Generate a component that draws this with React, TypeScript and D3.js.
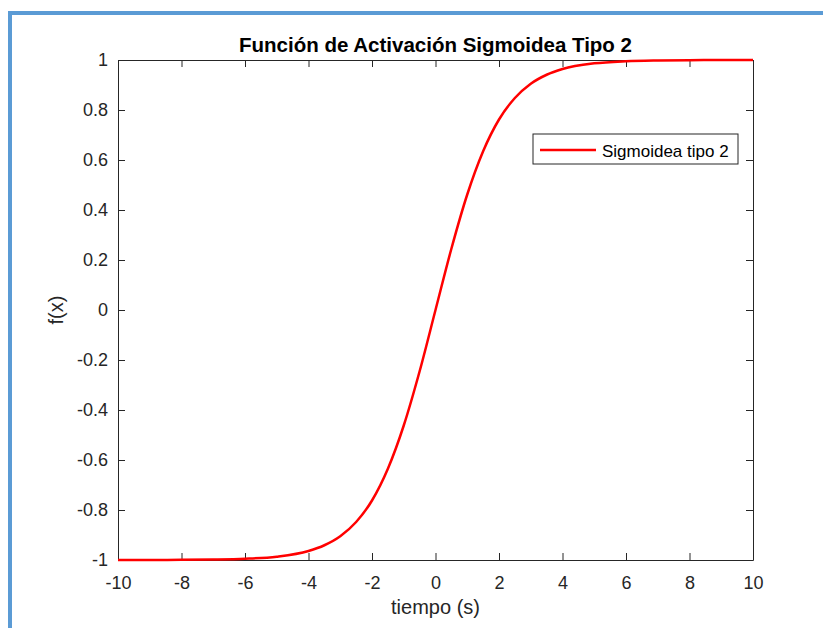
import React, { useEffect, useRef } from 'react';
import * as d3 from 'd3';

// values
const xValues = [-10, -9, -8, -7, -6, -5, -4, -3.5, -3, -2.5, -2, -1.5, -1, -0.5, 0, 0.5, 1, 1.5, 2, 2.5, 3, 3.5, 4, 5, 6, 7, 8, 9, 10];
const yValues = [-0.9999, -0.9998, -0.9993, -0.9982, -0.9951, -0.9866, -0.964, -0.941, -0.905, -0.848, -0.762, -0.635, -0.462, -0.245, 0, 0.245, 0.462, 0.635, 0.762, 0.848, 0.905, 0.941, 0.964, 0.9866, 0.9951, 0.9982, 0.9993, 0.9998, 0.9999];

const xTicks = [-10, -8, -6, -4, -2, 0, 2, 4, 6, 8, 10];
const yTicks = [-1, -0.8, -0.6, -0.4, -0.2, 0, 0.2, 0.4, 0.6, 0.8, 1];

const title = 'Función de Activación Sigmoidea Tipo 2';
const xLabel = 'tiempo (s)';
const yLabel = 'f(x)';
const seriesName = 'Sigmoidea tipo 2';

const W = 823;
const H = 628;
const margin = { top: 60, right: 70, bottom: 68, left: 118 };
const axisColor = '#262626';
const font = 'Arial, "Liberation Sans", Helvetica, sans-serif';

const App: React.FC = () => {
  const ref = useRef<SVGSVGElement>(null);

  useEffect(() => {
    if (!ref.current) return;
    const width = W - margin.left - margin.right;
    const height = H - margin.top - margin.bottom;

    const root = d3.select(ref.current);
    root.selectAll('*').remove();

    // blue window frame (top and left edge)
    root.append('path')
      .attr('d', `M10,${H} L10,13 L${W},13`)
      .attr('fill', 'none')
      .attr('stroke', '#5B9BD5')
      .attr('stroke-width', 4);

    const svg = root.append('g')
      .attr('transform', `translate(${margin.left},${margin.top})`);

    const x = d3.scaleLinear().domain([-10, 10]).range([0, width]);
    const y = d3.scaleLinear().domain([-1, 1]).range([height, 0]);

    const fmt = (d: any) => String(d);

    // axes on all four sides, MATLAB style
    const bottom = svg.append('g')
      .attr('transform', `translate(0,${height})`)
      .call(d3.axisBottom(x).tickValues(xTicks).tickSizeInner(-7).tickSizeOuter(0).tickPadding(16).tickFormat(fmt));
    const top = svg.append('g')
      .call(d3.axisTop(x).tickValues(xTicks).tickSizeInner(-7).tickSizeOuter(0).tickFormat(() => ''));
    const left = svg.append('g')
      .call(d3.axisLeft(y).tickValues(yTicks).tickSizeInner(-7).tickSizeOuter(0).tickPadding(10).tickFormat(fmt));
    const right = svg.append('g')
      .attr('transform', `translate(${width},0)`)
      .call(d3.axisRight(y).tickValues(yTicks).tickSizeInner(-7).tickSizeOuter(0).tickFormat(() => ''));

    [bottom, top, left, right].forEach(g => {
      g.select('.domain').attr('stroke', axisColor).attr('stroke-width', 1);
      g.selectAll('.tick line').attr('stroke', axisColor);
      g.selectAll('.tick text')
        .attr('fill', axisColor)
        .style('font-family', font)
        .style('font-size', '18px');
    });

    // curve
    const pts = xValues.map((v, i) => [v, yValues[i]] as [number, number]);
    const line = d3.line<[number, number]>()
      .x(d => x(d[0]))
      .y(d => y(d[1]))
      .curve(d3.curveMonotoneX);

    svg.append('path')
      .datum(pts)
      .attr('fill', 'none')
      .attr('stroke', '#FF0000')
      .attr('stroke-width', 2.5)
      .attr('d', line);

    // title
    svg.append('text')
      .attr('x', width / 2)
      .attr('y', -8)
      .attr('text-anchor', 'middle')
      .style('font-family', font)
      .style('font-weight', 'bold')
      .style('font-size', '20.5px')
      .attr('fill', '#000')
      .text(title);

    // axis labels
    svg.append('text')
      .attr('x', width / 2)
      .attr('y', height + 54)
      .attr('text-anchor', 'middle')
      .style('font-family', font)
      .style('font-size', '20px')
      .attr('fill', axisColor)
      .text(xLabel);

    svg.append('text')
      .attr('transform', `translate(${-55.5},${height / 2}) rotate(-90)`)
      .attr('text-anchor', 'middle')
      .style('font-family', font)
      .style('font-size', '20px')
      .attr('fill', axisColor)
      .text(yLabel);

    // legend
    const legend = svg.append('g')
      .attr('transform', `translate(${533 - margin.left},${134 - margin.top})`);
    legend.append('rect')
      .attr('width', 205)
      .attr('height', 30)
      .attr('fill', '#fff')
      .attr('stroke', axisColor)
      .attr('stroke-width', 1);
    legend.append('line')
      .attr('x1', 7).attr('x2', 63)
      .attr('y1', 16).attr('y2', 16)
      .attr('stroke', '#FF0000')
      .attr('stroke-width', 2.5);
    legend.append('text')
      .attr('x', 69)
      .attr('y', 22.5)
      .style('font-family', font)
      .style('font-size', '17px')
      .attr('fill', '#000')
      .text(seriesName);
  }, []);

  return (
    <svg ref={ref} width={W} height={H} style={{ position: 'absolute', left: 0, top: 0, background: '#fff' }} />
  );
};

export default App;
